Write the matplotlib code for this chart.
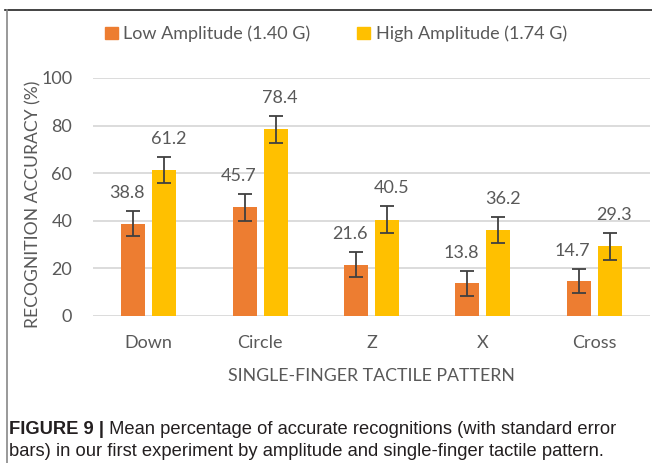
import matplotlib.pyplot as plt
from matplotlib.patches import Patch
import numpy as np

# data
patterns = ["Down", "Circle", "Z", "X", "Cross"]
low_amp = [38.8, 45.7, 21.6, 13.8, 14.7]
high_amp = [61.2, 78.4, 40.5, 36.2, 29.3]
low_err = [5.2, 5.6, 5.4, 5.2, 5.2]
high_err = [5.4, 5.6, 5.6, 5.4, 5.6]
yticks = [0, 20, 40, 60, 80, 100]

orange = "#ED7D31"
gold = "#FFC000"
txt = "#595959"

plt.rcParams['font.family'] = ['Lato', 'DejaVu Sans']

fig = plt.figure(figsize=(6.52, 4.63), dpi=100)
ax = fig.add_axes([93/652, 147/463, 557/652, 238/463])

x = np.arange(len(patterns))
w = 0.215
off = 0.139
ax.bar(x - off, low_amp, w, color=orange, zorder=3)
ax.bar(x + off, high_amp, w, color=gold, zorder=3)
ax.errorbar(x - off, low_amp, yerr=low_err, fmt='none', ecolor="#404040",
            elinewidth=1.3, capsize=4.7, capthick=1.3, zorder=4)
ax.errorbar(x + off, high_amp, yerr=high_err, fmt='none', ecolor="#404040",
            elinewidth=1.3, capsize=4.7, capthick=1.3, zorder=4)

# value labels above the error bars
for i in range(len(patterns)):
    ax.annotate(f"{low_amp[i]:.1f}", (x[i] - off, low_amp[i] + low_err[i]),
                xytext=(-4.5, 13), textcoords='offset points',
                ha='center', va='center', fontsize=13, color=txt)
    ax.annotate(f"{high_amp[i]:.1f}", (x[i] + off, high_amp[i] + high_err[i]),
                xytext=(3, 13), textcoords='offset points',
                ha='center', va='center', fontsize=13, color=txt)

ax.set_xlim(-0.5, 4.5)
ax.set_ylim(0, 100)
ax.set_yticks(yticks)
ax.set_xticks(x)
ax.set_xticklabels(patterns)
ax.tick_params(length=0, labelsize=13, labelcolor=txt)
ax.tick_params(axis='y', pad=15)
ax.tick_params(axis='x', pad=14)
ax.grid(axis='y', color="#d9d9d9", lw=1.3, zorder=0)
for s in ax.spines.values():
    s.set_visible(False)
ax.set_xlabel("SINGLE-FINGER TACTILE PATTERN", fontsize=12.8, color=txt, labelpad=12)
ax.set_ylabel("RECOGNITION ACCURACY (%)", fontsize=12.6, color=txt)
ax.yaxis.set_label_coords(-0.093, 0.47)

handles = [Patch(color=orange, label="Low Amplitude (1.40 G)"),
           Patch(color=gold, label="High Amplitude (1.74 G)")]
fig.legend(handles=handles, loc='center', bbox_to_anchor=(336/652, 429/463), ncol=2,
           frameon=False, fontsize=13, labelcolor=txt, handlelength=0.7,
           handleheight=0.7, handletextpad=0.3, columnspacing=2.6)

# frame lines
fig.add_artist(plt.Line2D([5/652, 1], [453/463, 453/463], color="#222222", lw=1.2))
fig.add_artist(plt.Line2D([6.5/652, 6.5/652], [0, 453/463], color="#888888", lw=1.2))

# caption
cap = fig.text(9/652, 29/463, "FIGURE 9 |", fontsize=13.2, fontweight='bold',
               color="#231f20", family='Liberation Sans', va='baseline')
ax.annotate(" Mean percentage of accurate recognitions (with standard error",
            xy=(1, 0), xycoords=cap, va='bottom', ha='left', fontsize=13.2,
            color="#231f20", family='Liberation Sans')
fig.text(9/652, 7.5/463, "bars) in our first experiment by amplitude and single-finger tactile pattern.",
         fontsize=13.2, color="#231f20", family='Liberation Sans', va='baseline')

fig.savefig("out.png", dpi=100)
